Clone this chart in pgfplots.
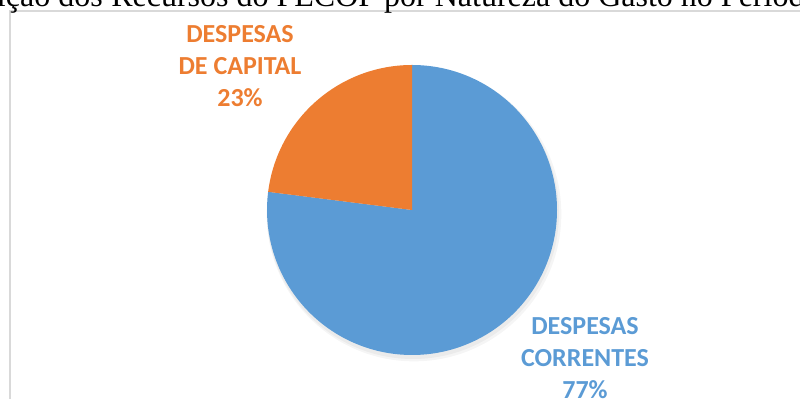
\documentclass[border=0pt]{standalone}
\usepackage{pgfplots}
\pgfplotsset{compat=1.18}
\usepackage{pgfplotstable}
\usepackage{fontspec}
\setmainfont{Carlito}
\newfontfamily\titlefont{Liberation Serif}
\definecolor{cblue}{HTML}{5B9BD5}
\definecolor{corange}{HTML}{ED7D31}
\definecolor{cborder}{HTML}{D9D9D9}
\pgfplotstableread{
part value
Correntes 77
Capital 23
}\piedata
\begin{document}
\begin{tikzpicture}[x=0.75pt,y=0.75pt]
\clip (0,0) rectangle (800,399);
\useasboundingbox (0,0) rectangle (800,399);
\pgfplotstablegetelem{0}{value}\of\piedata \let\vcor\pgfplotsretval
\pgfplotstablegetelem{1}{value}\of\piedata \let\vcap\pgfplotsretval
\pgfmathsetmacro{\acap}{90+3.6*\vcap}
\pgfmathsetmacro{\acor}{90-3.6*\vcor}
\begin{axis}[
  at={(0,0)}, anchor=south west,
  scale only axis, width=600pt, height=299.25pt,
  xmin=0, xmax=800, ymin=0, ymax=399,
  hide axis, clip=false]
  % shadow
  \fill[black, opacity=0.04] (axis cs:414,185) circle[radius=110.5pt];
  \fill[black, opacity=0.04] (axis cs:413,186) circle[radius=109.5pt];
  % wedges
  \fill[cblue] (axis cs:412,189) -- ++(90:108.75pt) arc[start angle=90, end angle=\acor, radius=108.75pt] -- cycle;
  \fill[corange] (axis cs:412,189) -- ++(90:108.75pt) arc[start angle=90, end angle=\acap, radius=108.75pt] -- cycle;
  % border
  \draw[cborder, line width=0.9pt] (axis cs:10,-5) -- (axis cs:10,388) -- (axis cs:805,388);
  % title
  \node[anchor=base east, inner sep=0pt, font=\fontsize{24pt}{28pt}\titlefont]
    at (axis cs:103,392) {Distribuição dos};
  \node[anchor=base west, inner sep=0pt, font=\fontsize{24pt}{28pt}\titlefont]
    at (axis cs:111,392) {Recursos do FECOP por Natureza do Gasto no Período};
  % labels
  \node[anchor=north, inner sep=0pt, align=center, text=corange,
    font=\fontsize{19.5pt}{24pt}\selectfont\bfseries] at (axis cs:240,374)
    {DESPESAS\\DE CAPITAL\\\vcap\%};
  \node[anchor=north, inner sep=0pt, align=center, text=cblue,
    font=\fontsize{19.5pt}{24pt}\selectfont\bfseries] at (axis cs:585,82)
    {DESPESAS\\CORRENTES\\\vcor\%};
\end{axis}
\end{tikzpicture}
\end{document}
